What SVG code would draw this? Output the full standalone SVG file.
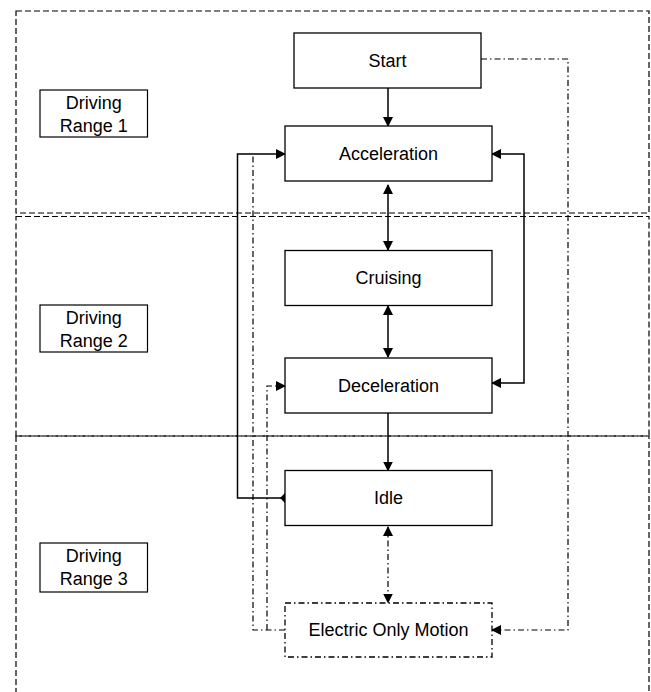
<svg xmlns="http://www.w3.org/2000/svg" width="651" height="692" viewBox="0 0 651 692">
<style>
.range{fill:none;stroke:#000;stroke-width:1.2;stroke-dasharray:6,3}
.box{fill:#fff;stroke:#000;stroke-width:1.3}
.dbox{fill:#fff;stroke:#000;stroke-width:1.3;stroke-dasharray:6,3,1.5,3}
.lbl{fill:#fff;stroke:#000;stroke-width:1.2}
text{font-family:"Liberation Sans",Arial,sans-serif;font-size:18px;fill:#000;text-anchor:middle}
.c{fill:none;stroke:#000;stroke-width:1.5}
.dd{fill:none;stroke:#000;stroke-width:1.2;stroke-dasharray:6,3,1.5,3}
</style>
<defs>
<marker id="ah" markerWidth="10" markerHeight="10" refX="9" refY="5" orient="auto-start-reverse" markerUnits="userSpaceOnUse">
<path d="M0,0 L10,5 L0,10 Z" fill="#000"/>
</marker>
<marker id="dm" markerWidth="10" markerHeight="10" refX="5" refY="5" orient="auto" markerUnits="userSpaceOnUse">
<path d="M0,5 L5,0 L10,5 L5,10 Z" fill="#000"/>
</marker>
</defs>
<g id="ranges">
<rect id="range1" class="range" x="16" y="11" width="633" height="202"/>
<rect id="range2" class="range" x="16" y="216.5" width="633" height="219.5"/>
<rect id="range3" class="range" x="16" y="436" width="633" height="270"/>
</g>
<g id="labels">
<g id="dr1"><rect class="lbl" x="40" y="90" width="107.5" height="47"/><text x="93.75" y="108.5">Driving</text><text x="93.75" y="131.5">Range 1</text></g>
<g id="dr2"><rect class="lbl" x="40" y="305" width="107.5" height="47"/><text x="93.75" y="323.5">Driving</text><text x="93.75" y="346.5">Range 2</text></g>
<g id="dr3"><rect class="lbl" x="40" y="543" width="107.5" height="49"/><text x="93.75" y="562">Driving</text><text x="93.75" y="585">Range 3</text></g>
</g>
<g id="connectors">
<line class="c" x1="388" y1="88" x2="388" y2="126" marker-end="url(#ah)"/>
<line class="c" x1="388" y1="185" x2="388" y2="250" marker-start="url(#ah)" marker-end="url(#ah)"/>
<line class="c" x1="388" y1="306" x2="388" y2="357" marker-start="url(#ah)" marker-end="url(#ah)"/>
<line class="c" x1="388" y1="413" x2="388" y2="470.5" marker-end="url(#ah)"/>
<line class="dd" x1="388" y1="527" x2="388" y2="602.5" marker-start="url(#ah)" marker-end="url(#ah)"/>
<polyline class="c" points="285,498 237.5,498 237.5,154 285,154" marker-start="url(#dm)" marker-end="url(#ah)"/>
<polyline class="c" points="492,154 524,154 524,383 492,383" marker-start="url(#ah)" marker-end="url(#ah)"/>
<polyline class="dd" points="481,59 568,59 568,630 492,630" marker-end="url(#ah)"/>
<polyline class="dd" points="285,630 253,630 253,154"/>
<polyline class="dd" points="267,630 267,386 285,386" marker-end="url(#ah)"/>
</g>
<g id="start"><rect class="box" x="294" y="33" width="187" height="55"/><text x="387.5" y="67">Start</text></g>
<g id="acceleration"><rect class="box" x="285" y="126" width="207" height="55"/><text x="388.5" y="160">Acceleration</text></g>
<g id="cruising"><rect class="box" x="285" y="250.5" width="207" height="55"/><text x="388.5" y="284">Cruising</text></g>
<g id="deceleration"><rect class="box" x="285" y="358" width="207" height="55"/><text x="388.5" y="392">Deceleration</text></g>
<g id="idle"><rect class="box" x="285" y="470.5" width="207" height="55"/><text x="388.5" y="504">Idle</text></g>
<g id="electric"><rect class="dbox" x="285" y="603" width="207" height="54"/><text x="388.5" y="636">Electric Only Motion</text></g>
</svg>
